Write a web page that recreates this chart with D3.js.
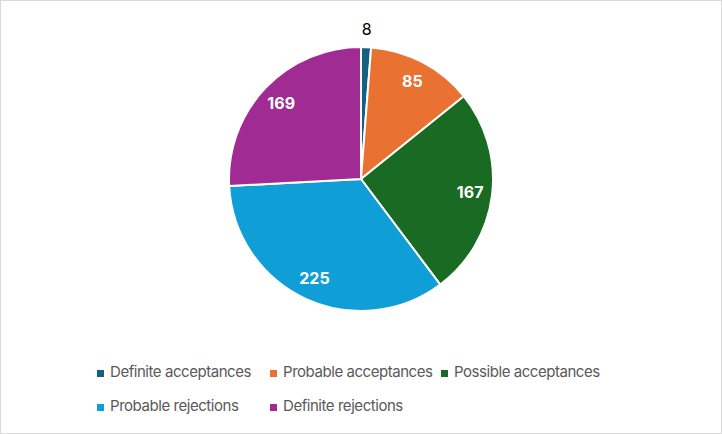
<!DOCTYPE html>
<html>
<head>
<meta charset="utf-8">
<script src="https://cdn.jsdelivr.net/npm/d3@7"></script>
<style>
  body { margin: 0; background: #fff; }
  svg { display: block; }
</style>
</head>
<body>
<script>
var width = 722,
    height = 434;

var categories = ['Definite acceptances', 'Probable acceptances', 'Possible acceptances', 'Probable rejections', 'Definite rejections'];
var values = [8, 85, 167, 225, 169];
var colors = ['#156082', '#E97132', '#196B24', '#0F9ED5', '#A02B93'];

var svg = d3.select('body').append('svg')
    .attr('width', width)
    .attr('height', height);

svg.append('rect')
    .attr('x', 0.5)
    .attr('y', 0.5)
    .attr('width', width - 1)
    .attr('height', height - 1)
    .attr('fill', '#fff')
    .attr('stroke', '#d9d9d9');

var cx = 361, cy = 179, radius = 132;

var data = categories.map(function (c, i) { return {name: c, value: values[i], color: colors[i]}; });

var pie = d3.pie().sort(null).value(function (d) { return d.value; });
var arcs = pie(data);

var arc = d3.arc().innerRadius(0).outerRadius(radius);
var labelArc = d3.arc().innerRadius(110).outerRadius(110);
var outerArc = d3.arc().innerRadius(150).outerRadius(150);

var g = svg.append('g').attr('transform', 'translate(' + cx + ',' + cy + ')');

g.selectAll('path')
    .data(arcs)
    .enter().append('path')
    .attr('d', arc)
    .attr('fill', function (d) { return d.data.color; })
    .attr('stroke', '#fff')
    .attr('stroke-width', 2)
    .attr('stroke-linejoin', 'round');

g.selectAll('text.val')
    .data(arcs)
    .enter().append('text')
    .attr('class', 'val')
    .attr('transform', function (d) {
        var small = d.data.value < 20;
        var p = small ? outerArc.centroid(d) : labelArc.centroid(d);
        return 'translate(' + p[0] + ',' + p[1] + ')';
    })
    .attr('text-anchor', 'middle')
    .attr('dy', '0.36em')
    .style('font-family', 'Inter, "Open Sans", sans-serif')
    .style('font-size', '16px')
    .style('font-weight', function (d) { return d.data.value < 20 ? 'normal' : 'bold'; })
    .attr('fill', function (d) { return d.data.value < 20 ? '#000' : '#fff'; })
    .text(function (d) { return d.data.value; });

// legend: two rows, baseline at rowY
var legendRows = [[0, 1, 2], [3, 4]];
var colX = [97, 270, 441];
var rowY = [377, 411];

legendRows.forEach(function (row, r) {
    row.forEach(function (idx, c) {
        var item = svg.append('g')
            .attr('transform', 'translate(' + colX[c] + ',' + rowY[r] + ')');
        item.append('rect')
            .attr('x', 0)
            .attr('y', -7)
            .attr('width', 7)
            .attr('height', 7)
            .attr('fill', colors[idx]);
        item.append('text')
            .attr('x', 13)
            .attr('y', 0)
            .style('font-family', 'Inter, "Open Sans", sans-serif')
            .style('font-size', '15px')
            .style('letter-spacing', '-0.45px')
            .attr('fill', '#595959')
            .text(categories[idx]);
    });
});
</script>
</body>
</html>
